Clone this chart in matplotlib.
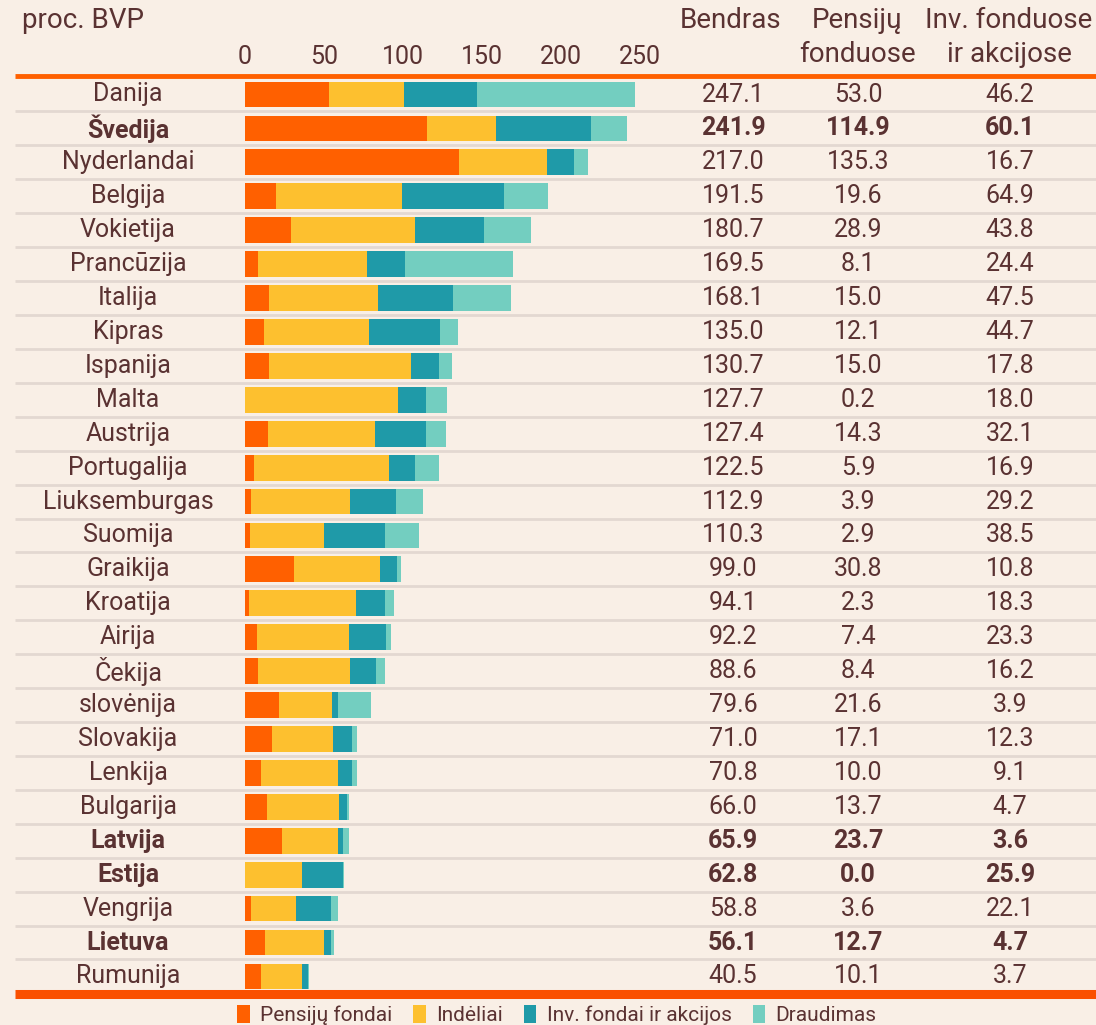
import numpy as np
import matplotlib
matplotlib.use('Agg')
from matplotlib import pyplot as plt
from matplotlib.patches import Patch

plt.rcParams['font.family'] = ['Roboto', 'DejaVu Sans']

# duomenys (proc. BVP)
salys = ['Danija', 'Švedija', 'Nyderlandai', 'Belgija', 'Vokietija', 'Prancūzija',
         'Italija', 'Kipras', 'Ispanija', 'Malta', 'Austrija', 'Portugalija',
         'Liuksemburgas', 'Suomija', 'Graikija', 'Kroatija', 'Airija', 'Čekija',
         'slovėnija', 'Slovakija', 'Lenkija', 'Bulgarija', 'Latvija', 'Estija',
         'Vengrija', 'Lietuva', 'Rumunija']
bendras = [247.1, 241.9, 217.0, 191.5, 180.7, 169.5, 168.1, 135.0, 130.7, 127.7,
           127.4, 122.5, 112.9, 110.3, 99.0, 94.1, 92.2, 88.6, 79.6, 71.0, 70.8,
           66.0, 65.9, 62.8, 58.8, 56.1, 40.5]
pensiju = [53.0, 114.9, 135.3, 19.6, 28.9, 8.1, 15.0, 12.1, 15.0, 0.2, 14.3, 5.9,
           3.9, 2.9, 30.8, 2.3, 7.4, 8.4, 21.6, 17.1, 10.0, 13.7, 23.7, 0.0, 3.6,
           12.7, 10.1]
inv = [46.2, 60.1, 16.7, 64.9, 43.8, 24.4, 47.5, 44.7, 17.8, 18.0, 32.1, 16.9,
       29.2, 38.5, 10.8, 18.3, 23.3, 16.2, 3.9, 12.3, 9.1, 4.7, 3.6, 25.9, 22.1,
       4.7, 3.7]
indeliai = [47.5, 43.7, 56.0, 79.5, 78.5, 69.0, 69.0, 66.5, 90.0, 96.5, 68.0, 85.0,
            62.5, 47.0, 54.4, 67.8, 58.3, 58.0, 33.5, 38.6, 48.7, 46.0, 35.0, 36.0,
            28.6, 37.0, 26.0]
ryskus = ['Švedija', 'Latvija', 'Estija', 'Lietuva']
tiks = [0, 50, 100, 150, 200, 250]

# draudimas = likutis
draudimas = [max(b - p - i - d, 0) for b, p, i, d in zip(bendras, pensiju, inv, indeliai)]

bg = '#f9efe6'
txt = '#5a3232'
spalvos = ['#ff6000', '#fdc02f', '#1f9aa8', '#73cec0']
pavad = ['Pensijų fondai', 'Indėliai', 'Inv. fondai ir akcijos', 'Draudimas']

W, H = 1096, 1025
fig = plt.figure(figsize=(W / 100, H / 100), dpi=100, facecolor=bg)
ax = fig.add_axes([0, 0, 1, 1])
ax.set_facecolor(bg)
ax.axis('off')

# masteliai: 0 -> 245 px, 250 -> 640 px; eilute 33.92 px
sx = (640 - 245) / 250
ry = 33.92
y0 = 94.5
ax.set_xlim(-245 / sx, (W - 245) / sx)
ax.set_ylim((H - y0) / ry, -y0 / ry)

y = np.arange(len(salys))
kaire = np.zeros(len(salys))
for vals, c in zip([pensiju, indeliai, inv, draudimas], spalvos):
    ax.barh(y, vals, left=kaire, height=0.76, color=c, linewidth=0, zorder=3)
    kaire += np.array(vals)

tr = ax.get_yaxis_transform()
# eiluciu linijos
for k in range(len(salys) - 1):
    ax.plot([15 / W, 1], [k + 0.5, k + 0.5], transform=tr,
            color='#e3d8d1', lw=2, zorder=1, solid_capstyle='butt')
ax.plot([15 / W, 1], [-0.56, -0.56], transform=tr,
        color='#ff6000', lw=3.5, zorder=4, solid_capstyle='butt')
ax.plot([15 / W, 1], [len(salys) - 1 + 0.53, len(salys) - 1 + 0.53],
        transform=tr, color='#fa5000', lw=6.5, zorder=4, solid_capstyle='butt')

fs = 18
for k, s in enumerate(salys):
    w = 'bold' if s in ryskus else 'normal'
    ax.text(128 / W, k, s, transform=tr, ha='center', va='center', fontsize=fs,
            color=txt, fontweight=w)
    ax.text(733 / W, k, f'{bendras[k]:.1f}', transform=tr, ha='center', va='center',
            fontsize=fs, color=txt, fontweight=w)
    ax.text(858 / W, k, f'{pensiju[k]:.1f}', transform=tr, ha='center', va='center',
            fontsize=fs, color=txt, fontweight=w)
    ax.text(1010 / W, k, f'{inv[k]:.1f}', transform=tr, ha='center', va='center',
            fontsize=fs, color=txt, fontweight=w)

# asies zymes virsuje
for t in tiks:
    ax.text(t, (57 - y0) / ry, str(t), ha='center', va='center', fontsize=fs,
            color=txt)

hs = 20
fig.text(22 / W, 1 - 20 / H, 'proc. BVP', ha='left', va='center', fontsize=hs, color=txt)
fig.text(731 / W, 1 - 20 / H, 'Bendras', ha='center', va='center', fontsize=hs, color=txt)
fig.text(857 / W, 1 - 20 / H, 'Pensijų', ha='center', va='center', fontsize=hs, color=txt)
fig.text(857 / W, 1 - 54 / H, 'fonduose', ha='center', va='center', fontsize=hs, color=txt)
fig.text(1009 / W, 1 - 20 / H, 'Inv. fonduose', ha='center', va='center', fontsize=hs, color=txt)
fig.text(1009 / W, 1 - 54 / H, 'ir akcijose', ha='center', va='center', fontsize=hs, color=txt)

rank = [Patch(facecolor=c, edgecolor='none') for c in spalvos]
leg = fig.legend(rank, pavad, loc='center', bbox_to_anchor=(557 / W, 1 - 1015 / H),
                 ncol=4, frameon=False, fontsize=15, handlelength=0.6, handleheight=1.0,
                 handletextpad=0.5, columnspacing=1.0, labelcolor=txt)

fig.savefig('out.png', dpi=100, facecolor=bg)
